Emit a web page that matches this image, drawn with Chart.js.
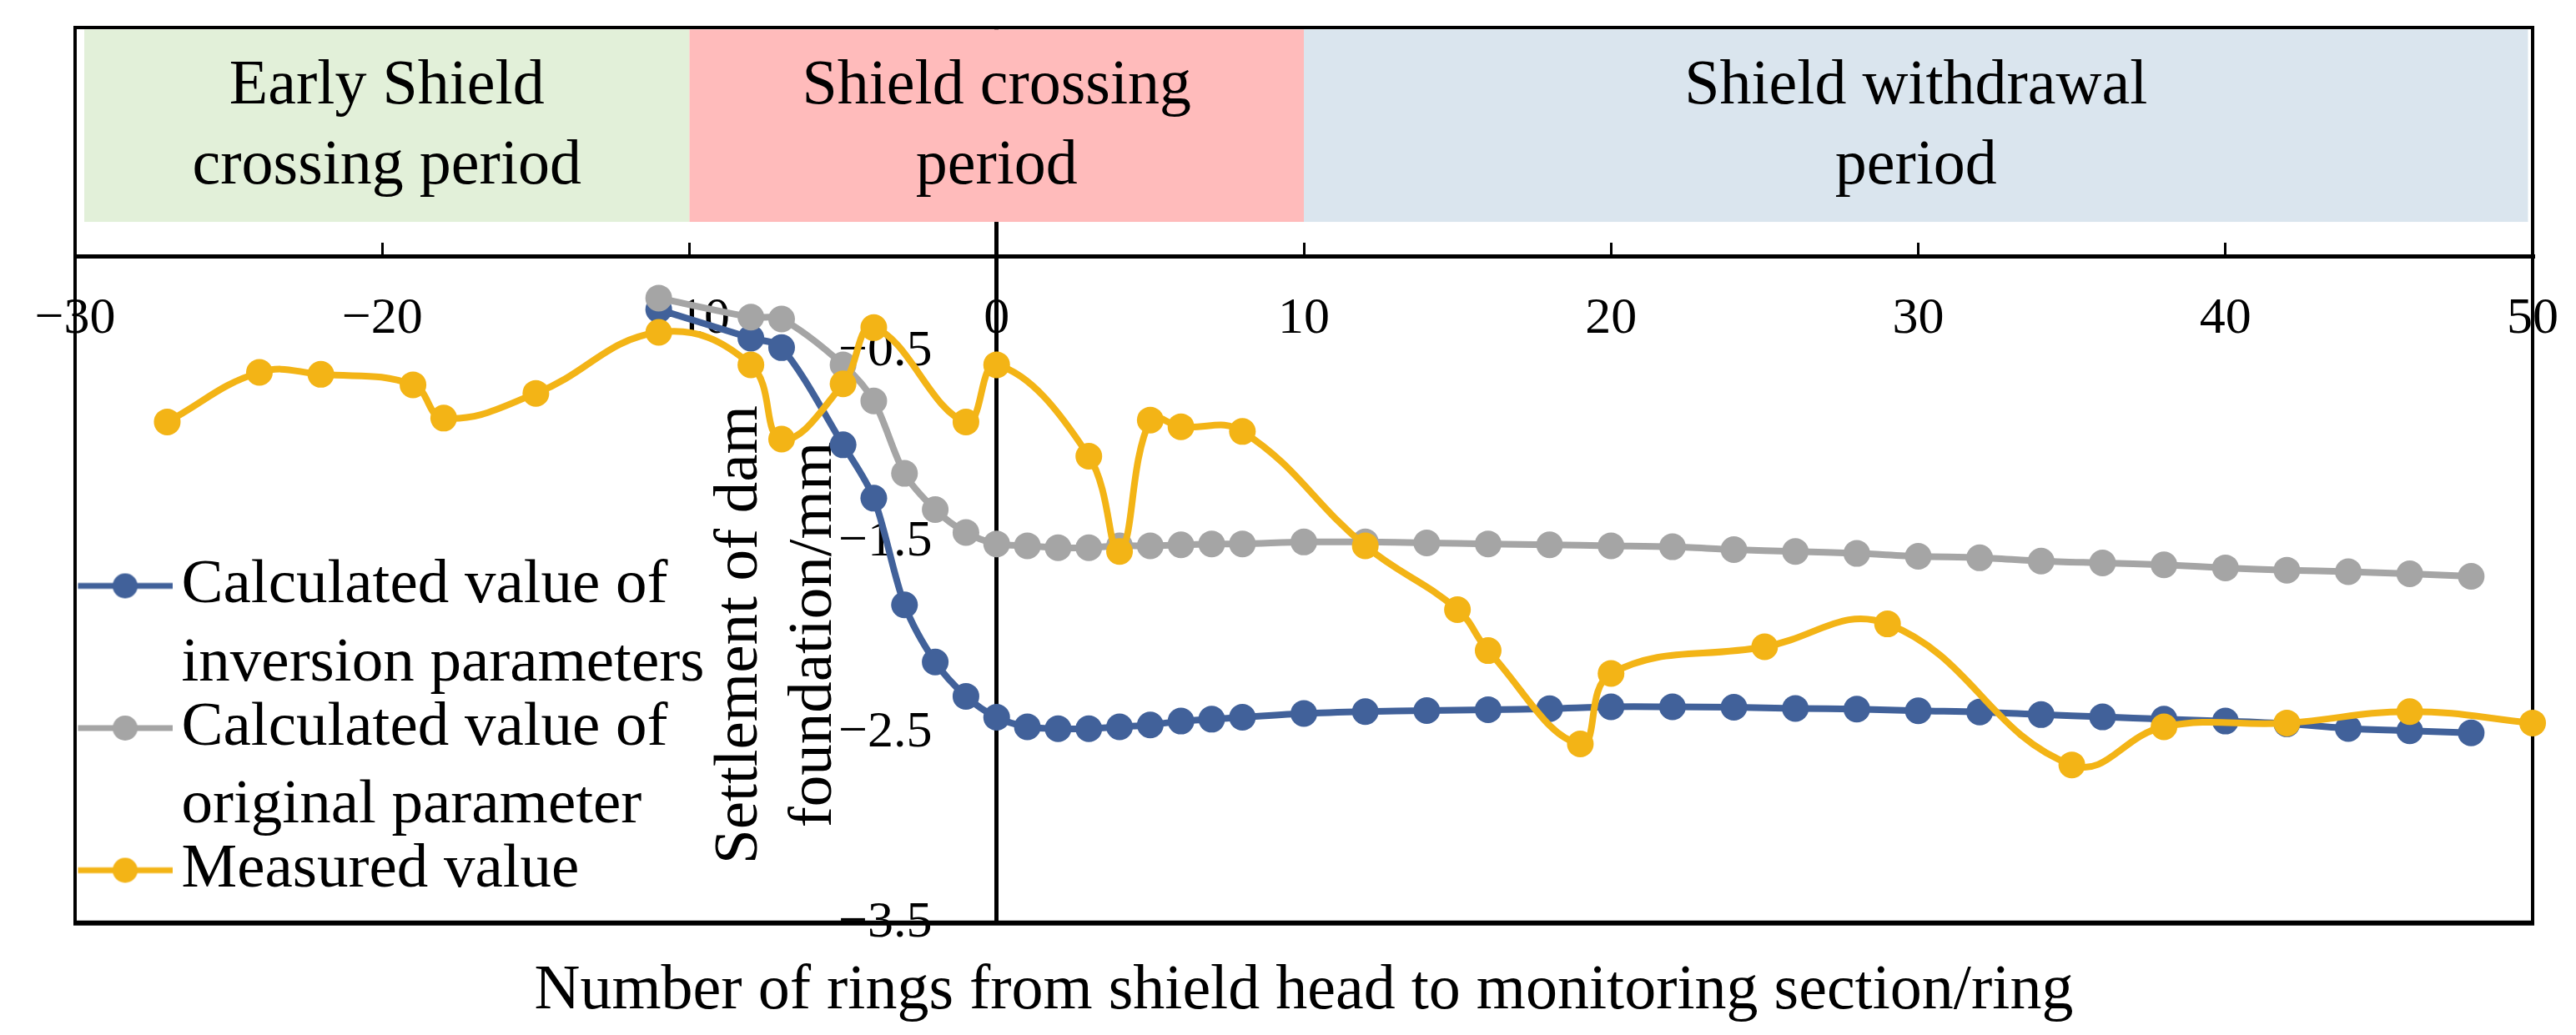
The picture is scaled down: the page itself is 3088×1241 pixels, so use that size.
<!DOCTYPE html>
<html>
<head>
<meta charset="utf-8">
<script src="https://cdn.jsdelivr.net/npm/chart.js@4.4.1/dist/chart.umd.min.js"></script>
<style>
  html, body { margin: 0; padding: 0; background: #fff; }
  #wrap { width: 3088px; height: 1241px; }
</style>
</head>
<body>
<div id="wrap"><canvas id="chart"></canvas></div>
<script>
// rings for the two calculated series
var calcRings = [-11, -8, -7, -5, -4, -3, -2, -1, 0, 1, 2, 3, 4, 5, 6, 7, 8,
  10, 12, 14, 16, 18, 20, 22, 24, 26, 28, 30, 32, 34, 36, 38, 40, 42, 44, 46, 48];
var inversionValues = [-0.28, -0.43, -0.48, -0.99, -1.27, -1.83, -2.13, -2.31,
  -2.42, -2.47, -2.48, -2.48, -2.47, -2.46, -2.44, -2.43, -2.42,
  -2.40, -2.39, -2.385, -2.38, -2.375, -2.365, -2.365, -2.367, -2.374, -2.377,
  -2.386, -2.392, -2.406, -2.418, -2.43, -2.44, -2.454, -2.479, -2.491, -2.502];
var originalValues = [-0.22, -0.32, -0.33, -0.57, -0.76, -1.14, -1.33, -1.45,
  -1.51, -1.52, -1.53, -1.53, -1.52, -1.52, -1.515, -1.51, -1.51,
  -1.50, -1.50, -1.505, -1.51, -1.515, -1.52, -1.525, -1.54, -1.55, -1.56,
  -1.575, -1.583, -1.60, -1.61, -1.62, -1.636, -1.648, -1.656, -1.667, -1.68];

// measured series
var measuredRings = [-27, -24, -22, -19, -18, -15, -11, -8, -7, -5, -4, -1, 0, 3, 4, 5, 6, 8,
  12, 15, 16, 19, 20, 25, 29, 35, 38, 42, 46, 50];
var measuredValues = [-0.87, -0.61, -0.62, -0.675, -0.85, -0.72, -0.40, -0.57, -0.96, -0.67,
  -0.375, -0.87, -0.57, -1.05, -1.55, -0.86, -0.895, -0.92, -1.52, -1.855, -2.07, -2.56,
  -2.19, -2.05, -1.93, -2.67, -2.47, -2.45, -2.39, -2.45];

var seriesNames = [
  ['Calculated value of', 'inversion parameters'],
  ['Calculated value of', 'original parameter'],
  'Measured value'
];
var seriesColors = ['#41619A', '#A5A5A5', '#F3B416'];

var yTickValues = [-3.5, -2.5, -1.5, -0.5];
var yLabelAnchor = -2.1;   // y tick labels end a little left of the x = 0 axis

// construction periods shown in the strip above the axis
var periodNames = [['Early Shield', 'crossing period'], ['Shield crossing', 'period'], ['Shield withdrawal', 'period']];
var periodStart = [-29.7, -10, 10];
var periodEnd = [-10, 10, 49.85];
var periodColors = ['#E2F0D9', '#FFBBBB', '#DAE5EE'];

var xTitle = 'Number of rings from shield head to monitoring section/ring';
var yTitle = ['Settlement of dam', 'foundation/mm'];

var FONT = "'Liberation Serif', 'Times New Roman', serif";

function toPoints(xs, ys) {
  return xs.map(function (x, i) { return { x: x, y: ys[i] }; });
}

function minusLabel(v, digits) {
  var s = Math.abs(v).toFixed(digits);
  return v < 0 ? '\u2212' + s : s;
}

// line+dot pictures for the legend (drawn right of the canvas centre)
function legendMarker(color) {
  var c = document.createElement('canvas');
  c.width = 160;
  c.height = 34;
  var g = c.getContext('2d');
  g.strokeStyle = color;
  g.lineWidth = 7;
  g.beginPath();
  g.moveTo(47, 17);
  g.lineTo(160, 17);
  g.stroke();
  g.fillStyle = color;
  g.beginPath();
  g.arc(103.5, 17, 15, 0, Math.PI * 2);
  g.fill();
  return c;
}
var markers = seriesColors.map(legendMarker);

var decorPlugin = {
  id: 'decor',
  afterLayout: function (chart) {
    // legend sits in the lower left of the plot
    chart.legend.top = 652;
  },
  beforeDatasetsDraw: function (chart) {
    var ctx = chart.ctx;
    var xs = chart.scales.x, ys = chart.scales.y;
    var area = chart.chartArea;
    var top = ys.getPixelForValue(1.19), bottom = ys.getPixelForValue(0.18);
    ctx.save();
    for (var i = 0; i < periodNames.length; i++) {
      var l = xs.getPixelForValue(periodStart[i]), r = xs.getPixelForValue(periodEnd[i]);
      ctx.fillStyle = periodColors[i];
      ctx.fillRect(l, top, r - l, bottom - top);
      ctx.fillStyle = '#000';
      ctx.font = '76px ' + FONT;
      ctx.textAlign = 'center';
      ctx.textBaseline = 'middle';
      var mid = (top + bottom) / 2;
      ctx.fillText(periodNames[i][0], (l + r) / 2, mid - 47);
      ctx.fillText(periodNames[i][1], (l + r) / 2, mid + 49);
    }
    // outer frame
    ctx.strokeStyle = '#000';
    ctx.lineWidth = 4;
    ctx.strokeRect(area.left, area.top, area.right - area.left, area.bottom - area.top);
    ctx.lineWidth = 6;
    ctx.beginPath();
    ctx.moveTo(area.left - 2, area.bottom);
    ctx.lineTo(area.right + 2, area.bottom);
    ctx.stroke();
    // y axis title
    ctx.translate(xs.getPixelForValue(0) - 307, 761);
    ctx.rotate(-Math.PI / 2);
    ctx.font = '75px ' + FONT;
    ctx.fillText(yTitle[0], 0, 0);
    ctx.fillText(yTitle[1], 0, 89);
    ctx.restore();
  }
};

new Chart(document.getElementById('chart'), {
  type: 'line',
  data: {
    datasets: [
      {
        label: 'inversion',
        data: toPoints(calcRings, inversionValues),
        borderColor: seriesColors[0],
        backgroundColor: seriesColors[0],
        order: 3
      },
      {
        label: 'original',
        data: toPoints(calcRings, originalValues),
        borderColor: seriesColors[1],
        backgroundColor: seriesColors[1],
        order: 2
      },
      {
        label: 'measured',
        data: toPoints(measuredRings, measuredValues),
        borderColor: seriesColors[2],
        backgroundColor: seriesColors[2],
        tension: 0.42,
        order: 1
      }
    ]
  },
  options: {
    responsive: true,
    maintainAspectRatio: false,
    devicePixelRatio: 1,
    animation: false,
    events: [],
    layout: { padding: { left: 90, right: 52, top: 33, bottom: 0 } },
    elements: {
      line: { borderWidth: 8, tension: 0.3, fill: false },
      point: { radius: 16, borderWidth: 0, hoverRadius: 16 }
    },
    datasets: { line: { clip: false, xAxisID: 'x', yAxisID: 'y' } },
    scales: {
      x: {
        type: 'linear',
        position: { y: 0 },
        min: -30,
        max: 50,
        ticks: {
          stepSize: 10,
          color: '#000',
          padding: 57,
          font: { family: FONT, size: 62 },
          callback: function (v) { return minusLabel(v, 0); }
        },
        grid: {
          display: true,
          drawOnChartArea: true,
          drawTicks: true,
          tickLength: -19,
          // only the x = 0 line is drawn: it is the vertical axis
          color: function (c) { return c.tick && c.tick.value === 0 ? '#000' : 'rgba(0,0,0,0)'; },
          lineWidth: 5,
          tickColor: '#000',
          tickWidth: 3
        },
        border: { display: true, color: '#000', width: 5 },
        afterFit: function (s) { s.height = 0; s.paddingLeft = 0; s.paddingRight = 0; }
      },
      y: {
        type: 'linear',
        position: { x: yLabelAnchor },
        min: -3.5,
        max: 1.2,
        afterBuildTicks: function (s) {
          s.ticks = yTickValues.map(function (v) { return { value: v }; });
        },
        ticks: {
          color: '#000',
          font: { family: FONT, size: 62 },
          callback: function (v) { return minusLabel(v, 1); }
        },
        grid: { display: false, drawTicks: false },
        border: { display: false },
        afterFit: function (s) { s.width = 0; s.paddingTop = 0; s.paddingBottom = 0; }
      },
      x2: {
        type: 'linear',
        position: 'bottom',
        min: -30,
        max: 50,
        ticks: { display: false },
        grid: { display: false, drawTicks: false },
        border: { display: false },
        title: {
          display: true,
          text: xTitle,
          color: '#000',
          font: { family: FONT, size: 76 },
          padding: { top: 37, bottom: 6 }
        }
      }
    },
    plugins: {
      tooltip: { enabled: false },
      legend: {
        position: 'chartArea',
        align: 'start',
        title: { display: true, text: ' ', color: '#000', font: { size: 30, lineHeight: 1 }, padding: 0 },
        labels: {
          usePointStyle: true,
          pointStyleWidth: 107,
          padding: -17,
          color: '#000',
          font: { family: FONT, size: 75, lineHeight: 1.25 },
          generateLabels: function () {
            return seriesNames.map(function (name, i) {
              return {
                text: name,
                fillStyle: seriesColors[i],
                strokeStyle: seriesColors[i],
                fontColor: '#000',
                lineWidth: 0,
                pointStyle: markers[i],
                hidden: false,
                datasetIndex: i
              };
            });
          }
        }
      }
    }
  },
  plugins: [decorPlugin]
});
</script>
</body>
</html>
